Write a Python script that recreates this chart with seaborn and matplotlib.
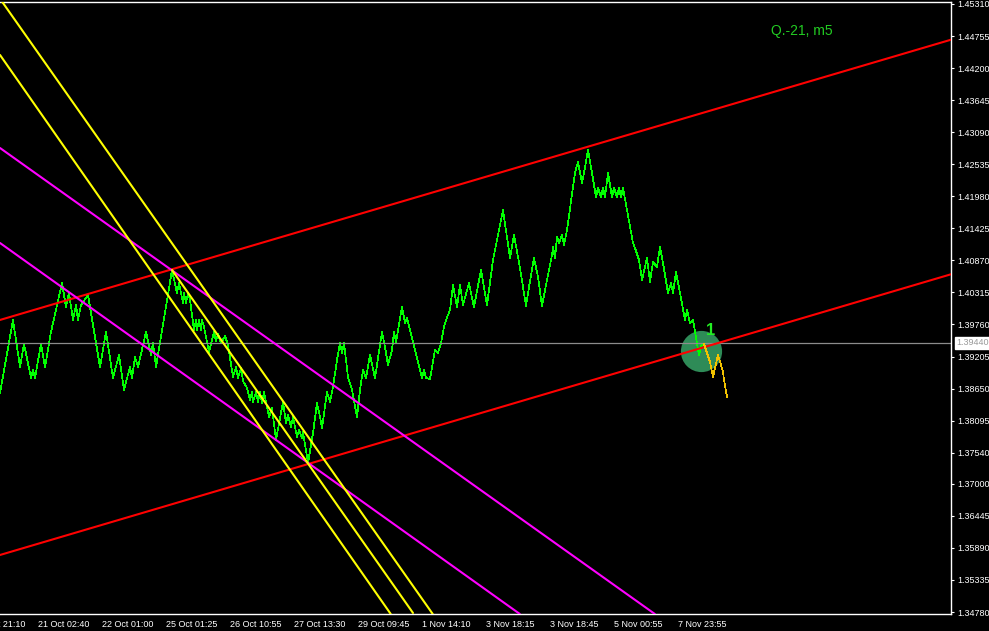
import matplotlib
matplotlib.use("Agg")
import matplotlib.pyplot as plt
import seaborn as sns
import pandas as pd

# ---------------- data ----------------
bar = [0, 13, 20, 24, 31, 33, 35, 41, 45, 51,
       62, 66, 69, 73, 76, 78, 81, 88, 100, 106,
       113, 119, 124, 130, 132, 135, 138, 146, 151, 153,
       156, 172, 177, 179, 183, 184, 186, 188, 190, 194,
       196, 197, 199, 201, 202, 204, 209, 214, 216, 218,
       221, 225, 228, 233, 236, 238, 241, 243, 247, 250,
       252, 253, 256, 258, 260, 262, 264, 269, 272, 276,
       283, 286, 288, 291, 293, 297, 299, 302, 303, 308,
       313, 317, 320, 322, 327, 330, 333, 337, 340, 342,
       344, 348, 352, 357, 360, 363, 366, 370, 375, 382,
       385, 388, 392, 394, 396, 402, 405, 407, 410, 422,
       424, 426, 430, 435, 438, 441, 444, 446, 450, 453,
       457, 460, 463, 469, 472, 474, 481, 487, 493, 503,
       510, 514, 520, 526, 529, 534, 538, 542, 546, 552,
       553, 555, 557, 559, 562, 564, 567, 575, 578, 582,
       584, 588, 592, 596, 598, 601, 603, 605, 608, 612,
       614, 617, 619, 621, 623, 633, 635, 639, 642, 647,
       650, 653, 657, 660, 663, 668, 671, 673, 676, 680,
       685, 687, 690, 693, 697, 699, 701, 704]
close = [1.38573, 1.39838, 1.39024, 1.39422, 1.38833, 1.38972, 1.38833, 1.39422, 1.39024, 1.39630,
         1.40478, 1.40063, 1.40305, 1.39838, 1.40097, 1.39838, 1.40097, 1.40271, 1.39024, 1.39630,
         1.38833, 1.39232, 1.38625, 1.39024, 1.38833, 1.39197, 1.39024, 1.39630, 1.39232, 1.39439,
         1.39024, 1.40703, 1.40305, 1.40478, 1.40132, 1.40305, 1.40132, 1.40305, 1.40184, 1.39664,
         1.39838, 1.39664, 1.39838, 1.39664, 1.39838, 1.39716, 1.39283, 1.39630, 1.39474, 1.39595,
         1.39439, 1.39561, 1.39405, 1.38851, 1.39024, 1.38833, 1.39006, 1.38781, 1.38660, 1.38452,
         1.38591, 1.38418, 1.38591, 1.38418, 1.38591, 1.38400, 1.38591, 1.38158, 1.38314, 1.37760,
         1.38418, 1.38054, 1.38192, 1.37985, 1.38158, 1.37812, 1.37933, 1.37794, 1.37898, 1.37361,
         1.37881, 1.38400, 1.38158, 1.37967, 1.38591, 1.38418, 1.38677, 1.39145, 1.39439, 1.39266,
         1.39439, 1.38851, 1.38625, 1.38158, 1.38625, 1.38972, 1.38833, 1.39232, 1.38833, 1.39630,
         1.39370, 1.39058, 1.39318, 1.39630, 1.39457, 1.40063, 1.39786, 1.39872, 1.39664, 1.38833,
         1.38972, 1.38833, 1.38816, 1.39318, 1.39266, 1.39439, 1.39716, 1.39838, 1.40011, 1.40444,
         1.40063, 1.40444, 1.40097, 1.40478, 1.40219, 1.40063, 1.40703, 1.40097, 1.40877, 1.41742,
         1.40911, 1.41310, 1.40738, 1.40080, 1.40409, 1.40911, 1.40582, 1.40080, 1.40444, 1.40963,
         1.41102, 1.40911, 1.41275, 1.41171, 1.41310, 1.41136, 1.41396, 1.42383, 1.42574, 1.42210,
         1.42383, 1.42781, 1.42383, 1.41968, 1.42123, 1.41968, 1.42123, 1.41968, 1.42383, 1.41968,
         1.42123, 1.41968, 1.42123, 1.41968, 1.42123, 1.41171, 1.41084, 1.40877, 1.40530, 1.40911,
         1.40496, 1.40842, 1.40755, 1.41102, 1.40825, 1.40305, 1.40478, 1.40305, 1.40669, 1.40305,
         1.39838, 1.40011, 1.39786, 1.39838, 1.39439, 1.39232, 1.39387, 1.39422]

proj_bar = [704, 710, 713, 715, 718, 723, 724, 727]
proj_price = [1.39422, 1.39110, 1.38851, 1.39006, 1.39232, 1.38937, 1.38799, 1.38504]

red_upper = [(0, 1.39838), (950, 1.44686)]
red_lower = [(0, 1.35768), (950, 1.40624)]
magenta_upper = [(0, 1.42816), (652, 1.34781)]
magenta_lower = [(0, 1.41171), (517, 1.34781)]
yellow_outer_a = [(3, 1.45327), (432, 1.34764)]
yellow_outer_b = [(0, 1.44427), (390, 1.34764)]
yellow_median = [(172, 1.40703), (413, 1.34764)]

current_price = 1.39440
signal_bar, signal_price = 700.5, 1.39301
signal_label_price = 1.39664

price_ticks = [1.34780, 1.35335, 1.35890, 1.36445, 1.37000, 1.37540, 1.38095,
               1.38650, 1.39205, 1.39760, 1.40315, 1.40870, 1.41425, 1.41980,
               1.42535, 1.43090, 1.43645, 1.44200, 1.44755, 1.45310]
time_tick_bars = [-26, 38, 102, 166, 230, 294, 358, 422, 486, 550, 614, 678]
time_tick_labels = ["20 Oct 21:10", "21 Oct 02:40", "22 Oct 01:00", "25 Oct 01:25",
                    "26 Oct 10:55", "27 Oct 13:30", "29 Oct 09:45", "1 Nov 14:10",
                    "3 Nov 18:15", "3 Nov 18:45", "5 Nov 00:55", "7 Nov 23:55"]
title_text = "Q.-21, m5"

# ---------------- style ----------------
sns.set_style("dark")
plt.rcParams["font.family"] = ["Liberation Sans", "DejaVu Sans"]
plt.rcParams["axes.facecolor"] = "black"
plt.rcParams["figure.facecolor"] = "black"

W, H = 989, 631
fig = plt.figure(figsize=(W / 100, H / 100), dpi=100, facecolor="black")
ax = fig.add_axes([0, 17 / H, 951 / W, 612 / H])
ax.set_facecolor("black")
ax.grid(False)

# signal circle (bottom layer)
ax.scatter([signal_bar], [signal_price], s=880, color="#2e8b57", zorder=1, linewidths=0)

df = pd.DataFrame({"bar": bar, "close": close})
sns.lineplot(data=df, x="bar", y="close", ax=ax, color="#00ff00", lw=0.5,
             estimator=None, sort=False, zorder=2, antialiased=False)

ax.axhline(current_price, color="#8c8c8c", lw=0.9, zorder=2.5)

lw2 = 1.5
for pts, col in [(red_upper, "#ff0000"), (red_lower, "#ff0000"),
                 (magenta_upper, "#ff00ff"), (magenta_lower, "#ff00ff"),
                 (yellow_outer_a, "#ffff00"), (yellow_outer_b, "#ffff00")]:
    ax.axline(pts[0], pts[1], color=col, lw=lw2, zorder=3)
ax.plot([yellow_median[0][0], yellow_median[1][0]],
        [yellow_median[0][1], yellow_median[1][1]], color="#ffff00", lw=lw2, zorder=3)

ax.plot(proj_bar, proj_price, color="#f2c200", lw=0.5, zorder=3.5, antialiased=False)

ax.text(signal_bar + 10, signal_label_price, "1", color="#22ee22", fontsize=12,
        fontweight="bold", ha="center", va="center", zorder=4)

# axes limits
ax.set_xlim(0, 951)
ax.set_ylim(1.34746, 1.45344)

# spines
for side in ["top", "right", "bottom"]:
    ax.spines[side].set_color("white")
    ax.spines[side].set_linewidth(1)
    ax.spines[side].set_visible(True)
ax.spines["left"].set_visible(False)

# ticks
ax.yaxis.tick_right()
ax.set_yticks(price_ticks)
ax.set_yticklabels([f"{p:.5f}" for p in price_ticks])
ax.tick_params(axis="y", direction="out", length=2.2, width=0.8, color="white",
               labelcolor="white", labelsize=6.5, pad=2, left=False, right=True)
ax.set_xticks(time_tick_bars[1:])
ax.set_xticklabels(time_tick_labels[1:])
ax.tick_params(axis="x", direction="out", length=2.2, width=0.8, color="white",
               labelcolor="white", labelsize=6.5, pad=2)
for lbl in ax.get_xticklabels():
    lbl.set_horizontalalignment("left")
ax.set_xlabel("")
ax.set_ylabel("")

# first (clipped) time label
ax.annotate(time_tick_labels[0], xy=(time_tick_bars[0], 0), xycoords=("data", "axes fraction"),
            xytext=(0, -4.2), textcoords="offset points", ha="left", va="top",
            color="white", fontsize=6.5, annotation_clip=False)

# current price label
ax.annotate(f"{current_price:.5f}", xy=(1, current_price), xycoords=("axes fraction", "data"),
            xytext=(4, 0), textcoords="offset points", ha="left", va="center",
            color="#9a9a9a", fontsize=6.5, annotation_clip=False,
            bbox=dict(boxstyle="square,pad=0.15", fc="white", ec="white"))

fig.text(802 / W, 1 - 31.5 / H, title_text, color="#22cc22", fontsize=10,
         ha="center", va="center")

fig.savefig("out.png", dpi=100, facecolor="black")
